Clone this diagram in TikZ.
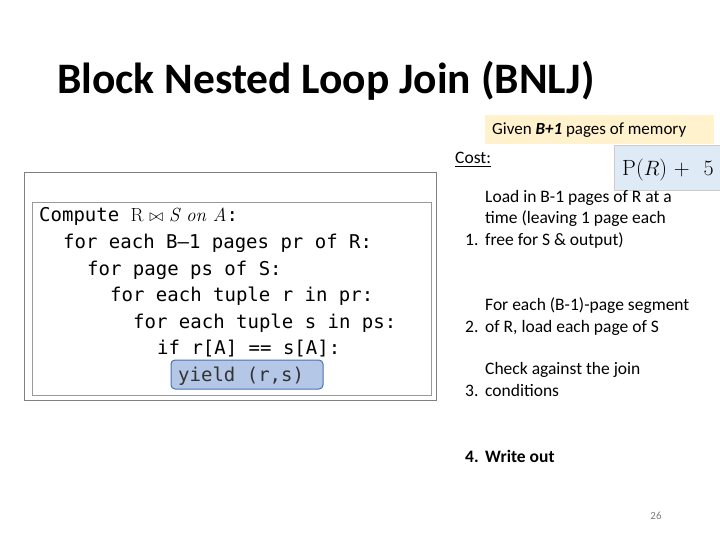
\documentclass[tikz,border=0pt]{standalone}
\usepackage{amsmath,amssymb}
\usepackage{fontspec}
\setmainfont{Carlito}
\setmonofont{DejaVu Sans Mono}
\newfontfamily\lmroman{Latin Modern Roman}
\usetikzlibrary{positioning}
\definecolor{notefill}{HTML}{FFF2CC}
\definecolor{costfill}{HTML}{DEEBF7}
\definecolor{yieldfill}{HTML}{B4C7E7}
\definecolor{yielddraw}{HTML}{4A72B0}
\begin{document}
\begin{tikzpicture}[x=1pt,y=-1pt]
	\tikzstyle{every node}+=[inner sep=0pt]
	\tikzstyle{code}=[anchor=base west,font=\ttfamily\fontsize{19}{22}\selectfont]
	\tikzstyle{stepitem}=[anchor=base west,font=\fontsize{17.5}{21.5}\selectfont]
	\useasboundingbox (0,0) rectangle (720,540);
	\node [anchor=base west,font=\bfseries\fontsize{43.5}{50}\selectfont] (title) at (57,94) {Block Nested Loop Join (BNLJ)};
	\draw [notefill,fill=notefill] (485,115) rectangle (713,143);
	\node [anchor=base west,font=\fontsize{17}{20}\selectfont] (given) at (492,135) {Given \textbf{\textit{B+1}} pages of memory};
	\node [anchor=base west,font=\fontsize{17.5}{20}\selectfont] (cost) at (455,164) {\underline{Cost:}};
	\begin{scope}
		\clip (600,140) rectangle (720,195);
		\draw [gray!40,fill=costfill] (614,145) rectangle (730,190);
		\node [anchor=base west,font=\lmroman\fontsize{22}{26}\selectfont] (formula) at (622,176) {P($R$) + \,\,5};
	\end{scope}
	\draw [gray,line width=1pt] (24,173) rectangle (436,400);
	\draw [gray!80,fill=white,line width=1pt] (32,203) rectangle (431,395);
	\node [code] (c1) at (39,222) {Compute {\lmroman R $\bowtie$ \itshape S on A}:};
	\node [code] (c2) at (63,248) {for each B\textendash1 pages pr of R:};
	\node [code] (c3) at (87,275) {for page ps of S:};
	\node [code] (c4) at (110,301) {for each tuple r in pr:};
	\node [code] (c5) at (133,328) {for each tuple s in ps:};
	\node [code] (c6) at (157,354) {if r[A] == s[A]:};
	\draw [yielddraw,fill=yieldfill,rounded corners=4pt,line width=1pt] (171,360) rectangle (323,389);
	\node [code,text=black!80] (c7) at (178,381) {yield (r,s)};
	\node [stepitem] (n1) at (465,245) {1.};
	\node [stepitem,align=left,anchor=base west] (s1) at (485,245) {Load in B-1 pages of R at a\\time (leaving 1 page each\\free for S \& output)};
	\node [stepitem] (n2) at (465,332) {2.};
	\node [stepitem,align=left,anchor=base west] (s2) at (485,332) {For each (B-1)-page segment\\of R, load each page of S};
	\node [stepitem] (n3) at (465,396) {3.};
	\node [stepitem,align=left,anchor=base west] (s3) at (485,396) {Check against the join\\conditions};
	\node [stepitem,font=\bfseries\fontsize{17.5}{21.5}\selectfont] (n4) at (465,462) {4.};
	\node [stepitem,font=\bfseries\fontsize{17.5}{21.5}\selectfont] (s4) at (485,462) {Write out};
	\node [anchor=base,font=\fontsize{11}{12}\selectfont,text=gray] (page) at (656,519) {26};
\end{tikzpicture}
\end{document}
